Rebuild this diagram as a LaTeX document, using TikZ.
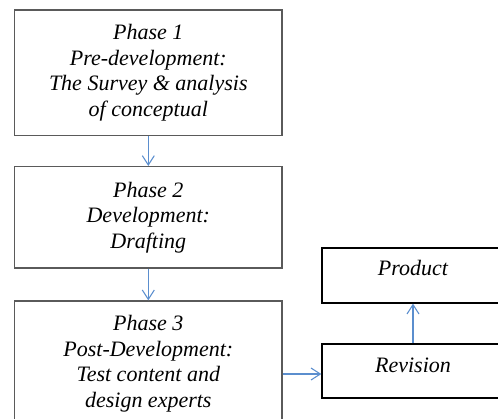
\documentclass[tikz,border=0pt]{standalone}
\usepackage{fontspec}
\setmainfont{Liberation Serif}
\usetikzlibrary{arrows.meta}
\definecolor{arrowblue}{RGB}{91,142,206}
\definecolor{boxgray}{RGB}{90,90,90}
\begin{document}
\begin{tikzpicture}[x=0.75pt,y=-0.75pt,
  phasebox/.style={draw=boxgray,line width=1pt,inner sep=0pt,minimum width=200.5pt,align=center,font=\itshape\fontsize{16.5}{19.1}\selectfont},
  outbox/.style={draw=black,line width=1pt,inner sep=0pt,minimum width=136.5pt},
  txt/.style={inner sep=0pt,font=\itshape\fontsize{16.5}{19.1}\selectfont},
  arr/.style={draw=arrowblue,line width=0.8pt,-{Straight Barb[length=7pt,width=9pt]}}]
\useasboundingbox (0,0) rectangle (498,418);
\node[phasebox,minimum height=94.1pt] (p1) at (148.3,72.8) {Phase 1\\Pre-development:\\The Survey \& analysis\\of conceptual};
\node[phasebox,minimum height=76pt] (p2) at (148.3,217.3) {Phase 2\\Development:\\Drafting};
\node[phasebox,minimum height=93.75pt] (p3) at (148.3,363.5) {Phase 3\\Post-Development:\\Test content and\\design experts};
\node[outbox,minimum height=41.25pt] (prod) at (413,275.5) {};
\node[outbox,minimum height=40.5pt] (rev) at (413,371) {};
\node[txt,anchor=base] (prodtxt) at (413,275) {Product};
\node[txt,anchor=base] (revtxt) at (413,372) {Revision};
\coordinate (h) at (300,374);
\draw[arr] (p1.south) -- (p2.north);
\draw[arr] (p2.south) -- (p3.north);
\draw[arr] (p3.east |- h) -- (rev.west |- h);
\draw[arr] (rev.north) -- (prod.south);
\end{tikzpicture}
\end{document}
